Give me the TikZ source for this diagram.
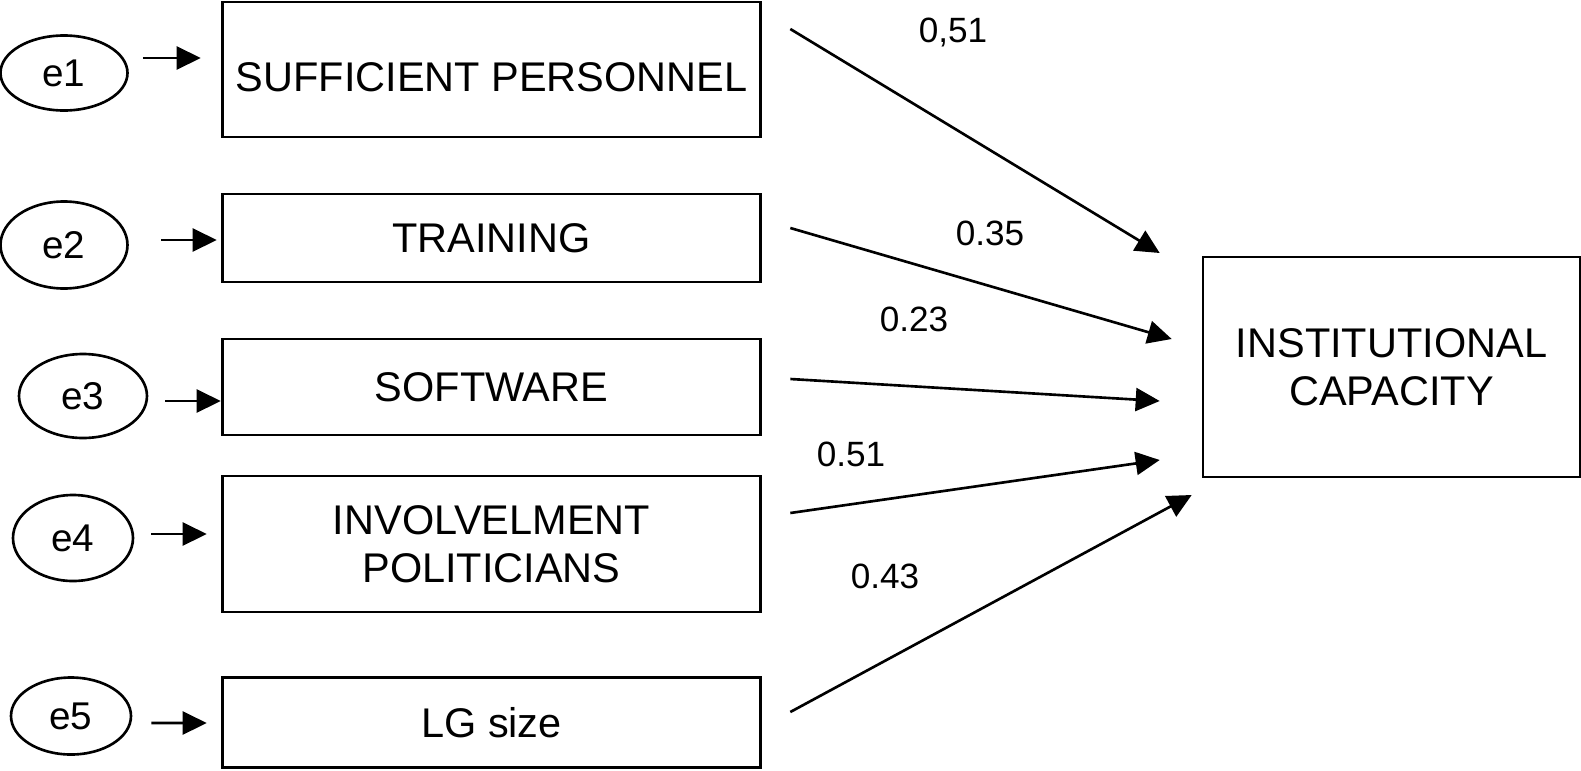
\documentclass[tikz,border=0pt]{standalone}
\usepackage{fontspec}
\setmainfont{Liberation Sans}
\usetikzlibrary{arrows.meta,shapes.geometric,calc}
\begin{document}
\begin{tikzpicture}[x=0.1mm,y=-0.1mm,line width=0.75pt,>={Triangle[length=2.4mm,width=2.3mm]},
		box/.style={draw,rectangle,inner sep=0pt,minimum width=53.8mm,align=center,font=\fontsize{11.8}{13.8}\selectfont},
		err/.style={draw,ellipse,inner sep=0pt,font=\fontsize{11}{13}\selectfont},
		coef/.style={font=\fontsize{10}{12}\selectfont}]
	\useasboundingbox (0,0) rectangle (1581,770);
	% observed variables
	\node[box,minimum height=13.5mm,text height=12.6pt,text depth=0pt] (personnel) at (491.5,69.5) {SUFFICIENT PERSONNEL};
	\node[box,minimum height=8.8mm] (training) at (491.5,238) {TRAINING};
	\node[box,minimum height=9.6mm] (software) at (491.5,387) {SOFTWARE};
	\node[box,minimum height=13.6mm] (politicians) at (491.5,544) {INVOLVELMENT\\POLITICIANS};
	\node[box,minimum height=9mm] (lgsize) at (491.5,722.5) {LG size};
	\node[box,minimum width=37.7mm,minimum height=22mm] (capacity) at (1391.5,367) {INSTITUTIONAL\\CAPACITY};
	% error terms
	\node[err,minimum width=12.7mm,minimum height=7.5mm] (e1) at (64,73) {e1};
	\node[err,minimum width=12.7mm,minimum height=8.7mm] (e2) at (64,245) {e2};
	\node[err,minimum width=12.8mm,minimum height=8.4mm] (e3) at (83,396) {e3};
	\node[err,minimum width=12mm,minimum height=8.6mm] (e4) at (73,538) {e4};
	\node[err,minimum width=12mm,minimum height=7.7mm] (e5) at (71,716) {e5};
	\draw[->] ($(e1.east)+(14,-15)$)--($(personnel.west)+(-20.5,-11.5)$);
	\draw[->] ($(e2.east)+(32.5,-5)$)--($(training.west)+(-4.5,2)$);
	\draw[->] ($(e3.east)+(17,5)$)--($(software.west)+(-0.5,14)$);
	\draw[->] ($(e4.east)+(17,-4)$)--($(politicians.west)+(-14.5,-10)$);
	\draw[->] ($(e5.east)+(19,7)$)--($(lgsize.west)+(-14.5,0.5)$);
	% paths
	\draw[->] ($(personnel.east)+(28.5,-40.5)$)--($(capacity.west)+(-42,-114)$);
	\draw[->] ($(training.east)+(28.5,-10)$)--($(capacity.west)+(-30,-28)$);
	\draw[->] ($(software.east)+(28.5,-8)$)--($(capacity.west)+(-42,34)$);
	\draw[->] ($(politicians.east)+(28.5,-31)$)--($(capacity.west)+(-42,93)$);
	\draw[->] ($(lgsize.east)+(28.5,-10.5)$)--($(capacity.west)+(-10,128)$);
	\node[coef] (c1) at (953,32) {0,51};
	\node[coef] (c2) at (990,233) {0.35};
	\node[coef] (c3) at (914,319) {0.23};
	\node[coef] (c4) at (851,454) {0.51};
	\node[coef] (c5) at (885,576) {0.43};
\end{tikzpicture}
\end{document}
